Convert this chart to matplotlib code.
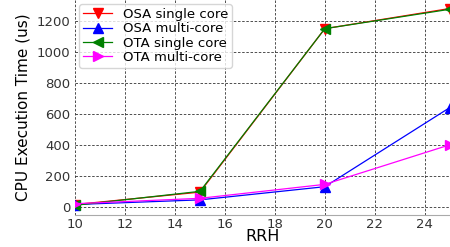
import matplotlib
matplotlib.use("Agg")
import matplotlib.pyplot as plt

rrh = [10, 15, 20, 25]
osa_single = [15, 95, 1150, 1280]
osa_multi = [15, 45, 130, 640]
ota_single = [10, 100, 1150, 1275]
ota_multi = [20, 55, 145, 400]

fig = plt.figure(figsize=(4.5, 2.47), dpi=100)
ax = fig.add_axes([0.167, 0.13, 0.835, 0.87])

ax.plot(rrh, osa_single, color="red", marker="v", markersize=7, linewidth=0.9, label="OSA single core")
ax.plot(rrh, osa_multi, color="blue", marker="^", markersize=7, linewidth=0.9, label="OSA multi-core")
ax.plot(rrh, ota_single, color="green", marker="<", markersize=7, linewidth=0.9, label="OTA single core")
ax.plot(rrh, ota_multi, color="magenta", marker=">", markersize=7, linewidth=0.9, label="OTA multi-core")

ax.set_xlim(10, 25.05)
ax.set_ylim(-52, 1335)
ax.set_xticks([10, 12, 14, 16, 18, 20, 22, 24])
ax.set_yticks([0, 200, 400, 600, 800, 1000, 1200])
ax.tick_params(labelsize=9.5, colors="#333333", length=0)
ax.tick_params(axis="x", pad=2)
ax.grid(True, color="#333333", linestyle=(0, (3, 2)), linewidth=0.6)
for side in ["top", "right", "left"]:
    ax.spines[side].set_visible(False)
ax.spines["bottom"].set_color("#aaaaaa")

ax.set_xlabel("RRH", fontsize=11.5, labelpad=-1)
ax.set_ylabel("CPU Execution Time (us)", fontsize=11)
ax.legend(loc="upper left", fontsize=9.5, handlelength=2.2, borderaxespad=0.3,
          labelspacing=0.1, borderpad=0.3)

fig.savefig("out.png", dpi=100)
